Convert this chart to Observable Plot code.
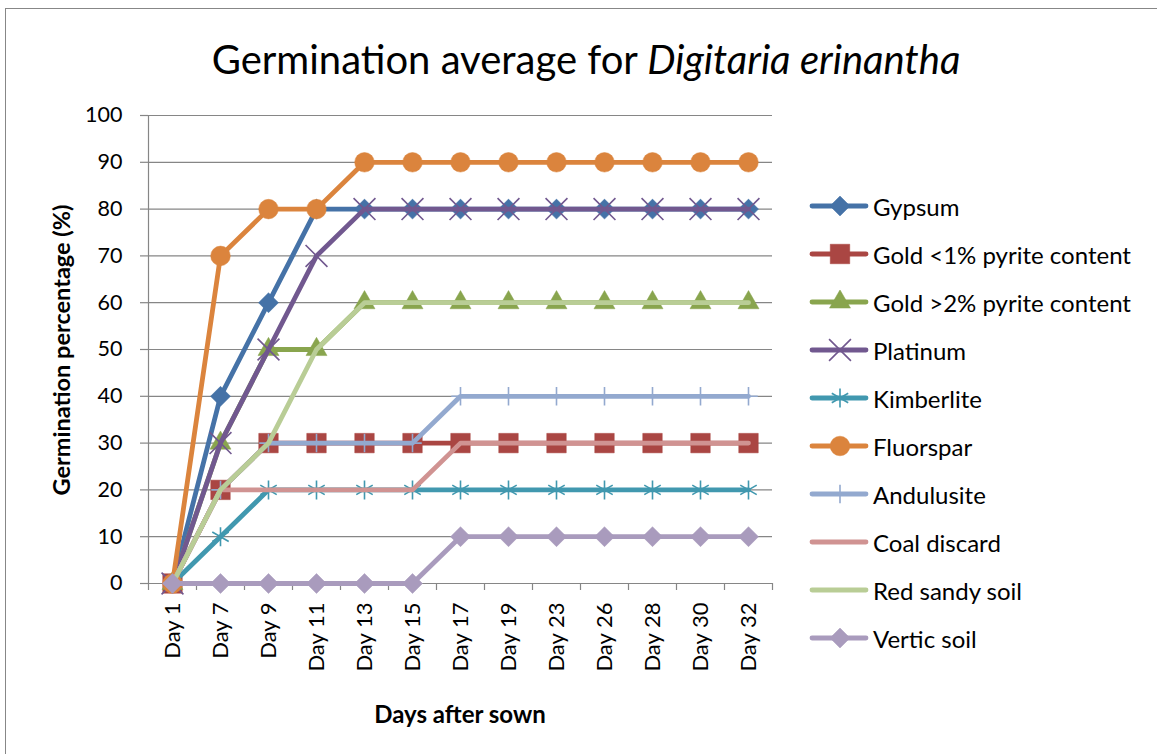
<!DOCTYPE html>
<html><head><meta charset="utf-8">
<script src="https://cdn.jsdelivr.net/npm/d3@7"></script>
<script src="https://cdn.jsdelivr.net/npm/@observablehq/plot@0.6"></script>
<style>
body{margin:0;width:1157px;height:754px;overflow:hidden;background:#fff;font-family:Lato, sans-serif;position:relative;}
#frame{position:absolute;left:5px;top:8px;width:1170px;height:770px;border:1.5px solid #878787;box-sizing:border-box;}
#title{position:absolute;left:0;width:1172px;top:35px;text-align:center;font-size:40px;line-height:48px;color:#000;}
#chart{position:absolute;left:0;top:0;}
#ytitle{position:absolute;left:61px;top:350px;transform:translate(-50%,-50%) rotate(-90deg);font-weight:bold;font-size:23.5px;white-space:nowrap;}
#xtitle{position:absolute;left:460px;top:713px;transform:translate(-50%,-50%);font-weight:bold;font-size:24px;white-space:nowrap;}
#legend{position:absolute;left:808px;top:182px;}
.row{height:48px;display:flex;align-items:center;font-size:24px;white-space:nowrap;}
.row svg{margin-right:3px;}
</style></head>
<body>
<div id="frame"></div>
<div id="title">Germination average for <i>Digitaria erinantha</i></div>
<div id="chart"></div>
<div id="ytitle">Germination percentage (%)</div>
<div id="xtitle">Days after sown</div>
<div id="legend"></div>
<script>
const days = ["Day 1","Day 7","Day 9","Day 11","Day 13","Day 15","Day 17","Day 19","Day 23","Day 26","Day 28","Day 30","Day 32"];
const yTicks = [0,10,20,30,40,50,60,70,80,90,100];
const seriesNames = ["Gypsum","Gold <1% pyrite content","Gold >2% pyrite content","Platinum","Kimberlite","Fluorspar","Andulusite","Coal discard","Red sandy soil","Vertic soil"];
const gypsum     = [0,40,60,80,80,80,80,80,80,80,80,80,80];
const goldLow    = [0,20,30,30,30,30,30,30,30,30,30,30,30];
const goldHigh   = [0,30,50,50,60,60,60,60,60,60,60,60,60];
const platinum   = [0,30,50,70,80,80,80,80,80,80,80,80,80];
const kimberlite = [0,10,20,20,20,20,20,20,20,20,20,20,20];
const fluorspar  = [0,70,80,80,90,90,90,90,90,90,90,90,90];
const andulusite = [0,20,30,30,30,30,40,40,40,40,40,40,40];
const coal       = [0,20,20,20,20,20,30,30,30,30,30,30,30];
const redSandy   = [0,20,30,50,60,60,60,60,60,60,60,60,60];
const vertic     = [0,0,0,0,0,0,10,10,10,10,10,10,10];
const seriesValues = [gypsum,goldLow,goldHigh,platinum,kimberlite,fluorspar,andulusite,coal,redSandy,vertic];

// styles
const styles = [
  {color:"#4572A7", symbol:"diamond2", r:9, filled:true},
  {color:"#AA4643", symbol:"square", r:11, filled:true},
  {color:"#89A54E", symbol:"triangle", r:7.8, filled:true},
  {color:"#71588F", symbol:"times", r:10, filled:false},
  {color:"#4198AF", symbol:"asterisk", r:9, filled:false},
  {color:"#DB843D", symbol:"circle", r:9.8, filled:true},
  {color:"#93A9CF", symbol:"plus", r:6, filled:false},
  {color:"#D09392", symbol:null},
  {color:"#B9CD96", symbol:null},
  {color:"#A99BBD", symbol:"diamond2", r:9, filled:true}
];

const tables = seriesValues.map((vals, i) => vals.map((v, j) => ({day: days[j], value: v, series: seriesNames[i]})));

const gridColor = "#868686";
const marks = [
  Plot.gridY(yTicks, {stroke: gridColor, strokeOpacity: 1, strokeWidth: 1.2}),
  Plot.ruleY([0], {stroke: gridColor, strokeWidth: 1.2}),
  Plot.ruleX([days[0]], {dx: -24, y1: 0, y2: 100, stroke: gridColor, strokeWidth: 1.2}),
  Plot.axisY(yTicks, {tickSize: 8, tickPadding: 18, fontSize: 21.5, stroke: gridColor, strokeWidth: 1.2, label: null}),
  Plot.axisX(days, {tickSize: 7, dx: -24, tickFormat: () => "", stroke: gridColor, strokeWidth: 1.2, label: null}),
  Plot.axisX([days[days.length-1]], {tickSize: 7, dx: 24, tickFormat: () => "", stroke: gridColor, strokeWidth: 1.2, label: null}),
  Plot.axisX(days, {tickSize: 0, tickRotate: -90, tickPadding: 19, fontSize: 22, label: null})
];

tables.forEach((t, i) => {
  const s = styles[i];
  marks.push(Plot.line(t, {x: "day", y: "value", stroke: s.color, strokeWidth: 4.8, strokeLinejoin: "round", strokeLinecap: "round"}));
  if (s.symbol) {
    marks.push(Plot.dot(t, {x: "day", y: "value", symbol: () => s.symbol, r: s.r,
      fill: s.filled ? s.color : "none", stroke: s.color, strokeWidth: s.filled ? 0.5 : 1.6}));
  }
});

const chart = Plot.plot({
  width: 800, height: 754,
  marginLeft: 148, marginRight: 28, marginTop: 115, marginBottom: 171,
  style: {fontFamily: "Lato, sans-serif", background: "transparent", color: "#000", overflow: "visible"},
  x: {type: "point", domain: days, padding: 0.5, label: null},
  y: {domain: [0, 100], label: null},
  symbol: {type: "identity"},
  marks
});
document.getElementById("chart").appendChild(chart);

// legend
const symbolMap = {diamond2: d3.symbolDiamond2, square: d3.symbolSquare, triangle: d3.symbolTriangle, times: d3.symbolTimes, asterisk: d3.symbolAsterisk, circle: d3.symbolCircle, plus: d3.symbolPlus};
const legend = d3.select("#legend");
seriesNames.forEach((name, i) => {
  const s = styles[i];
  const row = legend.append("div").attr("class", "row");
  const svg = row.append("svg").attr("width", 62).attr("height", 24);
  svg.append("line").attr("x1", 4).attr("x2", 58).attr("y1", 12).attr("y2", 12)
    .attr("stroke", s.color).attr("stroke-width", 4.8).attr("stroke-linecap", "round");
  if (s.symbol) {
    svg.append("path").attr("transform", "translate(32,12)")
      .attr("d", d3.symbol(symbolMap[s.symbol], Math.PI * s.r * s.r)())
      .attr("fill", s.filled ? s.color : "none").attr("stroke", s.color).attr("stroke-width", s.filled ? 0.5 : 1.6);
  }
  row.append("span").text(name);
});
</script>
</body></html>
